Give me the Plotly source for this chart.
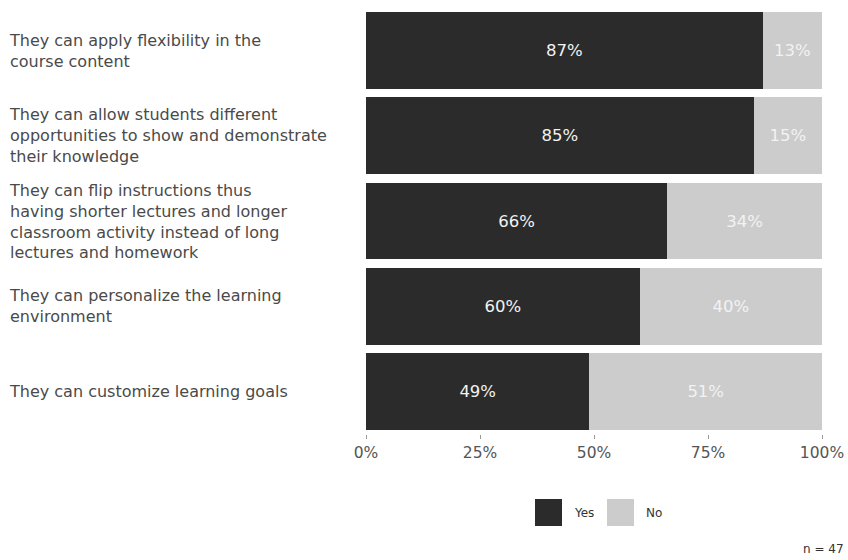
import plotly.graph_objects as go

# Survey statements (top to bottom) and share of responses
statements = [
    "They can apply flexibility in the<br>course content",
    "They can allow students different<br>opportunities to show and demonstrate<br>their knowledge",
    "They can flip instructions thus<br>having shorter lectures and longer<br>classroom activity instead of long<br>lectures and homework",
    "They can personalize the learning<br>environment",
    "They can customize learning goals",
]
yes_pct = [87, 85, 66, 60, 49]
no_pct = [13, 15, 34, 40, 51]
tick_vals = [0, 25, 50, 75, 100]
tick_text = ["0%", "25%", "50%", "75%", "100%"]
sample_note = "n = 47"

DARK = "#2b2b2b"
LIGHT = "#cccccc"
FONT = "DejaVu Sans, Arial, sans-serif"

W, H = 848, 560
ML, MR, MT, MB = 366, 26, 8, 126
PW = W - ML - MR
PH = H - MT - MB

fig = go.Figure()
cats = list(range(len(statements)))
for name, vals, col in [("Yes", yes_pct, DARK), ("No", no_pct, LIGHT)]:
    fig.add_trace(go.Bar(
        y=cats, x=vals, name=name, orientation="h",
        marker=dict(color=col, line=dict(width=0)),
        text=[f"{v}%" for v in vals], textposition="inside",
        insidetextanchor="middle", textangle=0,
        textfont=dict(color="#f2f2f2", size=16.5, family=FONT),
        hoverinfo="skip", showlegend=False,
    ))

# Category labels, left aligned at the page edge
for i, s in enumerate(statements):
    fig.add_annotation(
        xref="paper", yref="y", x=(7 - ML) / PW, y=i,
        xanchor="left", yanchor="middle", align="left",
        text=s, showarrow=False,
        font=dict(size=16, color="#4a4a4a", family=FONT),
    )

# Legend keys
def px_x(px):
    return (px - ML) / PW

def px_y(py):
    return (H - MB - py) / PH

for x0, label, col in [(535, "Yes", DARK), (607, "No", LIGHT)]:
    fig.add_shape(type="rect", xref="paper", yref="paper",
                  x0=px_x(x0), x1=px_x(x0 + 27), y0=px_y(526), y1=px_y(499),
                  fillcolor=col, line=dict(width=0))
    fig.add_annotation(xref="paper", yref="paper", x=px_x(x0 + 37), y=px_y(513),
                       xanchor="left", yanchor="middle", text=label, showarrow=False,
                       font=dict(size=12, color="#333333", family=FONT))

fig.add_annotation(xref="paper", yref="paper", x=px_x(846), y=px_y(549),
                   xanchor="right", yanchor="middle", text=sample_note, showarrow=False,
                   font=dict(size=12, color="#333333", family=FONT))

fig.update_layout(
    width=W, height=H, barmode="stack", bargap=0.1,
    margin=dict(l=ML, r=MR, t=MT, b=MB, autoexpand=False),
    paper_bgcolor="white", plot_bgcolor="white",
    xaxis=dict(range=[0, 100], tickvals=tick_vals, ticktext=tick_text,
               ticks="outside", ticklen=4, tickcolor="#999999", tickwidth=1,
               showgrid=False, zeroline=False, showline=False, automargin=False,
               tickfont=dict(size=15.5, color="#555555", family=FONT)),
    yaxis=dict(range=[len(statements) - 0.5, -0.5], showticklabels=False,
               showgrid=False, zeroline=False, showline=False, ticks="",
               automargin=False),
)

fig.write_html("out.html")
